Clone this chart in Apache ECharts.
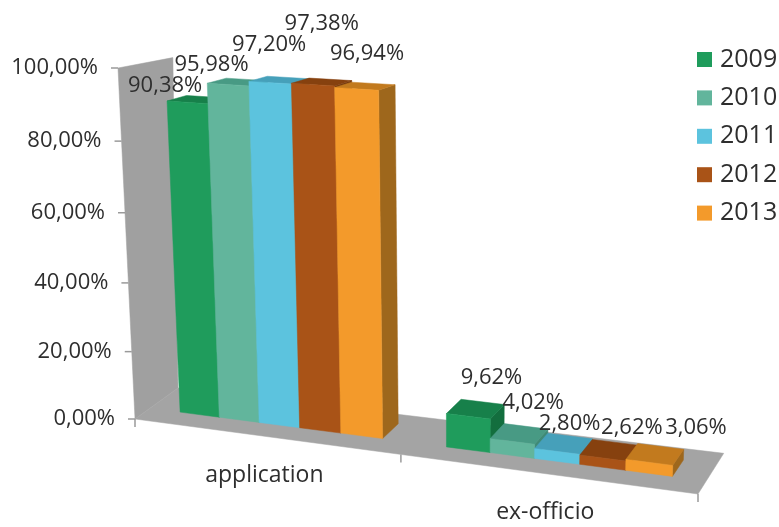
<!DOCTYPE html>
<html>
<head>
<meta charset="utf-8">
<style>html,body{margin:0;padding:0;background:#fff}#c{width:779px;height:527px}</style>
<script src="https://cdn.jsdelivr.net/npm/echarts@6/dist/echarts.min.js"></script>
</head>
<body>
<div id="c"></div>
<script>
const categories = ['application', 'ex-officio'];
const years = ['2009', '2010', '2011', '2012', '2013'];
const values2009 = [90.38, 9.62];
const values2010 = [95.98, 4.02];
const values2011 = [97.20, 2.80];
const values2012 = [97.38, 2.62];
const values2013 = [96.94, 3.06];
const tickValues = [0, 20, 40, 60, 80, 100];
const tickLabels = ['0,00%', '20,00%', '40,00%', '60,00%', '80,00%', '100,00%'];

const seriesValues = [values2009, values2010, values2011, values2012, values2013];
const fronts = ['#1f9c5c', '#62b59c', '#5cc3de', '#a95317', '#f39a2b'];
const tops = ['#17804a', '#489a84', '#46a0ba', '#86410f', '#c27a1e'];
const sides = ['#136e3e', '#3f8a76', '#3c8ea6', '#743a0f', '#9e671c'];
const textColor = '#2e2e2e';
const fontName = '"Open Sans"';
const labelNudge = [
  [[-32, -14], [16, -31]], [[-26, -17], [14, -31]], [[-10, -35], [6, -20]],
  [[0, -58], [23, -22]], [[2, -32], [41, -27]]
];

// oblique view of the plot box: x along categories, y along values, z into the page
const O = [135, 419], X = [698, 494], Y = [118, 68], Z = [178, 388];
const pa = -0.105, pb = -0.05, pc = 0.04, topFlatten = 8;
const mx = [X[0] * (1 + pa) - O[0], X[1] * (1 + pa) - O[1]];
const my = [Y[0] * (1 + pb) - O[0], Y[1] * (1 + pb) - O[1]];
const mz = [Z[0] * (1 + pc) - O[0], Z[1] * (1 + pc) - O[1]];
function view(u, v, z) {
  const w = 1 + pa * u + pb * v + pc * z;
  return [(O[0] + u * mx[0] + v * my[0] + z * mz[0]) / w,
          (O[1] + u * mx[1] + v * my[1] + z * mz[1]) / w + topFlatten * z * v];
}
function shift(p, dx, dy) { return [p[0] + dx, p[1] + dy]; }
function norm(params, api, cat, val) {
  const p = api.coord([cat, val]), cs = params.coordSys;
  return [(p[0] - cs.x) / cs.width, (cs.y + cs.height - p[1]) / cs.height];
}
const bandStart = 0.12, barShare = 0.154, zFront = 0.34, zBack = 0.78;
function barU(params, api, cat, s) {
  const c = norm(params, api, cat, 0)[0];
  const band = api.size([1, 0])[0] / params.coordSys.width;
  const left = c - band / 2 + band * (bandStart + barShare * s);
  return [left, left + band * barShare];
}
function poly(points, fill) {
  return { type: 'polygon', shape: { points: points }, style: { fill: fill, stroke: fill, lineWidth: 0.5 } };
}
function barSeries(name, s) {
  return {
    type: 'custom', name: name, coordinateSystem: 'cartesian2d', z: 3,
    itemStyle: { color: fronts[s] },
    encode: { x: 0, y: 1 },
    data: categories.map((c, i) => [i, seriesValues[s][i]]),
    renderItem(params, api) {
      const cat = api.value(0), val = api.value(1);
      const [u0, u1] = barU(params, api, cat, s);
      const v = norm(params, api, cat, val)[1];
      return {
        type: 'group',
        children: [
          poly([view(u1, 0, zFront), view(u1, 0, zBack), view(u1, v, zBack), view(u1, v, zFront)], sides[s]),
          poly([view(u0, v, zFront), view(u1, v, zFront), view(u1, v, zBack), view(u0, v, zBack)], tops[s]),
          poly([view(u0, 0, zFront), view(u1, 0, zFront), view(u1, v, zFront), view(u0, v, zFront)], fronts[s])
        ]
      };
    }
  };
}
const frameSeries = {
  type: 'custom', name: 'frame', coordinateSystem: 'cartesian2d', z: 1, silent: true,
  data: [[0, 0]],
  renderItem(params, api) {
    const gray = '#a4a4a4', tick = '#9a9a9a';
    const kids = [
      poly([view(0, 0, 0), view(0, 1, 0), shift(view(0, 1, 1), 9, 0), view(0, 0, 1)], '#a0a0a0'),
      poly([view(0, 0, 0), view(1, 0, 0), shift(view(1, 0, 1), 2, -3), view(0, 0, 1)], gray)
    ];
    tickValues.forEach((t, i) => {
      const p = view(0, norm(params, api, 0, t)[1], 0);
      kids.push({ type: 'line', shape: { x1: p[0] - 7, y1: p[1], x2: p[0], y2: p[1] }, style: { stroke: tick, lineWidth: 1.5 } });
      kids.push({ type: 'text', x: p[0] - 20, y: p[1], style: { text: tickLabels[i], fill: textColor, font: '22px ' + fontName, align: 'right', verticalAlign: 'middle' } });
    });
    [0, 0.5, 1].forEach(u => {
      const p = view(u, 0, 0);
      kids.push({ type: 'line', shape: { x1: p[0], y1: p[1], x2: p[0], y2: p[1] + 8 }, style: { stroke: tick, lineWidth: 1.5 } });
    });
    categories.forEach((c, i) => {
      const p = view(norm(params, api, i, 0)[0], 0, 0);
      kids.push({ type: 'text', x: p[0], y: p[1] + 39, style: { text: c, fill: textColor, font: '23px ' + fontName, align: 'center', verticalAlign: 'middle' } });
    });
    return { type: 'group', children: kids };
  }
};
const labelData = [];
seriesValues.forEach((vals, s) => vals.forEach((val, i) => labelData.push([i, val, s])));
const labelSeries = {
  type: 'custom', name: 'labels', coordinateSystem: 'cartesian2d', z: 5, silent: true,
  data: labelData,
  renderItem(params, api) {
    const cat = api.value(0), val = api.value(1), s = api.value(2);
    const [u0, u1] = barU(params, api, cat, s);
    const p = view((u0 + u1) / 2, norm(params, api, cat, val)[1], (zFront + zBack) / 2);
    const n = labelNudge[s][cat];
    return { type: 'text', x: p[0] + n[0], y: p[1] + n[1], style: { text: val.toFixed(2).replace('.', ',') + '%', fill: textColor, font: '22px ' + fontName, align: 'center', verticalAlign: 'middle' } };
  }
};

const chart = echarts.init(document.getElementById('c'));
chart.setOption({
  animation: false,
  backgroundColor: '#ffffff',
  grid: { left: 100, right: 100, top: 50, bottom: 50 },
  xAxis: { type: 'category', data: categories, show: false },
  yAxis: { type: 'value', min: 0, max: 100, interval: 20, show: false },
  legend: {
    data: years, orient: 'vertical', left: 692, top: 42, itemWidth: 15, itemHeight: 15, itemGap: 13.4, icon: 'rect',
    textStyle: { fontFamily: 'Open Sans', fontSize: 25, color: textColor, lineHeight: 24, padding: [0, 0, 0, 3] }
  },
  series: [frameSeries].concat(years.map(barSeries), [labelSeries])
});
</script>
</body>
</html>
